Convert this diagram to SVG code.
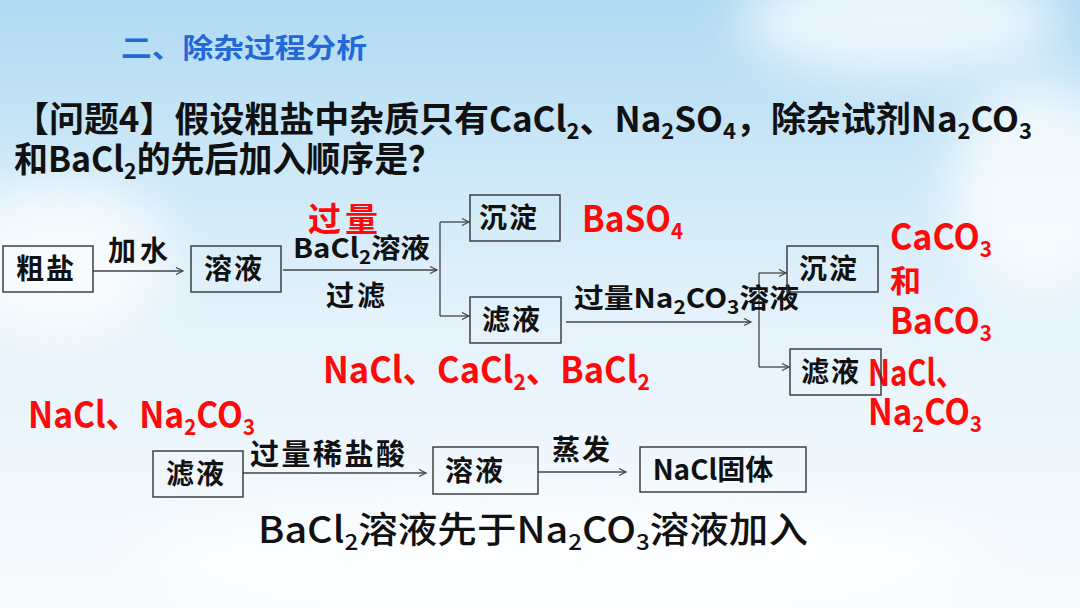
<svg xmlns="http://www.w3.org/2000/svg" width="1080" height="608" viewBox="0 0 1080 608">
<defs>
<linearGradient id="sky" x1="0" y1="0" x2="0" y2="1">
<stop offset="0" stop-color="#b0daf3"/>
<stop offset="0.3" stop-color="#cfe9f8"/>
<stop offset="0.55" stop-color="#e6f3fb"/>
<stop offset="1" stop-color="#f8fbfe"/>
</linearGradient>
<filter id="blur" x="-50%" y="-50%" width="200%" height="200%"><feGaussianBlur stdDeviation="25"/></filter>
<marker id="arr" markerWidth="10" markerHeight="10" refX="8" refY="4" orient="auto" markerUnits="userSpaceOnUse">
<path d="M1,0.5 L8,4 L1,7.5" fill="none" stroke="#444" stroke-width="1.2"/>
</marker>
<style>
text{font-family:"Noto Sans CJK SC","Noto Sans",sans-serif;font-weight:700;fill:#111}
.title{font-size:27px;fill:#2468d6}
.q{font-size:35px}
.sub{font-size:22px}
.subs{font-size:19px}
.node{font-size:28px;text-anchor:middle;letter-spacing:2px}
.lbl{font-size:27px}
.red{font-size:36px;fill:#ff0a0a}
.box{fill:none;stroke:#333;stroke-width:1.4}
.ln{fill:none;stroke:#444;stroke-width:1.3}
</style>
</defs>
<rect width="1080" height="608" fill="url(#sky)"/>
<g filter="url(#blur)" fill="#ffffff" opacity="0.75">
<ellipse cx="900" cy="20" rx="160" ry="55"/>
<ellipse cx="1040" cy="190" rx="90" ry="110"/>
<ellipse cx="60" cy="260" rx="110" ry="80"/>
<ellipse cx="560" cy="560" rx="420" ry="60"/>
</g>

<text class="title" x="121" y="58" textLength="246" lengthAdjust="spacingAndGlyphs">二、除杂过程分析</text>
<text class="q" x="14" y="132" textLength="1018" lengthAdjust="spacingAndGlyphs">【问题4】假设粗盐中杂质只有CaCl<tspan class="sub" dy="7">2</tspan><tspan dy="-7">、Na</tspan><tspan class="sub" dy="7">2</tspan><tspan dy="-7">SO</tspan><tspan class="sub" dy="7">4</tspan><tspan dy="-7">，除杂试剂Na</tspan><tspan class="sub" dy="7">2</tspan><tspan dy="-7">CO</tspan><tspan class="sub" dy="7">3</tspan></text>
<text class="q" x="14" y="172" textLength="428" lengthAdjust="spacingAndGlyphs">和BaCl<tspan class="sub" dy="7">2</tspan><tspan dy="-7">的先后加入顺序是？</tspan></text>

<g id="connectors">
<line class="ln" x1="93" y1="271" x2="183" y2="271" marker-end="url(#arr)"/>
<line class="ln" x1="283" y1="270" x2="437" y2="270" marker-end="url(#arr)"/>
<path class="ln" d="M440,222 V316"/>
<line class="ln" x1="440" y1="222" x2="469" y2="222" marker-end="url(#arr)"/>
<line class="ln" x1="440" y1="316" x2="469" y2="316" marker-end="url(#arr)"/>
<line class="ln" x1="566" y1="322" x2="751" y2="322" marker-end="url(#arr)"/>
<path class="ln" d="M759,273 V367"/>
<line class="ln" x1="759" y1="273" x2="786" y2="273" marker-end="url(#arr)"/>
<line class="ln" x1="759" y1="367" x2="789" y2="367" marker-end="url(#arr)"/>
<line class="ln" x1="243" y1="473" x2="426" y2="473" marker-end="url(#arr)"/>
<line class="ln" x1="538" y1="472" x2="626" y2="472" marker-end="url(#arr)"/>
</g>

<g id="labels">
<text class="lbl" x="108" y="261" style="font-size:28px" textLength="60">加水</text>
<text class="lbl" x="308" y="231" style="font-size:33px;fill:#ff0a0a" textLength="70">过量</text>
<text class="lbl" x="293" y="258" textLength="137" lengthAdjust="spacingAndGlyphs">BaCl<tspan class="subs" dy="6">2</tspan><tspan dy="-6">溶液</tspan></text>
<text class="lbl" x="326" y="306" style="font-size:28px" textLength="59">过滤</text>
<text class="lbl" x="574" y="308" textLength="225" lengthAdjust="spacingAndGlyphs">过量Na<tspan class="subs" dy="6">2</tspan><tspan dy="-6">CO</tspan><tspan class="subs" dy="6">3</tspan><tspan dy="-6">溶液</tspan></text>
<text class="lbl" x="250" y="465" style="font-size:29px" textLength="155">过量稀盐酸</text>
<text class="lbl" x="552" y="460" style="font-size:28px" textLength="58">蒸发</text>
</g>

<g id="red-notes">
<text class="red" x="582" y="232" textLength="101" lengthAdjust="spacingAndGlyphs">BaSO<tspan class="sub" dy="7">4</tspan></text>
<text class="red" x="323" y="383" textLength="327" lengthAdjust="spacingAndGlyphs">NaCl、CaCl<tspan class="sub" dy="7">2</tspan><tspan dy="-7">、BaCl</tspan><tspan class="sub" dy="7">2</tspan></text>
<text class="red" x="890" y="250" textLength="102" lengthAdjust="spacingAndGlyphs">CaCO<tspan class="sub" dy="7">3</tspan></text>
<text class="red" x="890" y="292" style="font-size:31px">和</text>
<text class="red" x="890" y="334" textLength="102" lengthAdjust="spacingAndGlyphs">BaCO<tspan class="sub" dy="7">3</tspan></text>
<text class="red" x="868" y="386" textLength="97" lengthAdjust="spacingAndGlyphs">NaCl、</text>
<text class="red" x="868" y="425" textLength="114" lengthAdjust="spacingAndGlyphs">Na<tspan class="sub" dy="7">2</tspan><tspan dy="-7">CO</tspan><tspan class="sub" dy="7">3</tspan></text>
<text class="red" x="28" y="428" textLength="227" lengthAdjust="spacingAndGlyphs">NaCl、Na<tspan class="sub" dy="7">2</tspan><tspan dy="-7">CO</tspan><tspan class="sub" dy="7">3</tspan></text>
</g>

<g id="n-cuyan"><rect class="box" x="3" y="246" width="90" height="46"/><text class="node" x="46" y="279">粗盐</text></g>
<g id="n-rongye1"><rect class="box" x="191" y="246" width="90" height="46"/><text class="node" x="234" y="279">溶液</text></g>
<g id="n-chendian1"><rect class="box" x="470" y="195" width="90" height="46"/><text class="node" x="509" y="228">沉淀</text></g>
<g id="n-lvye1"><rect class="box" x="470" y="297" width="91" height="46"/><text class="node" x="512" y="330">滤液</text></g>
<g id="n-chendian2"><rect class="box" x="787" y="246" width="91" height="46"/><text class="node" x="829" y="279">沉淀</text></g>
<g id="n-lvye2"><rect class="box" x="790" y="349" width="91" height="46"/><text class="node" x="831" y="382">滤液</text></g>
<g id="n-lvye3"><rect class="box" x="153" y="451" width="90" height="46"/><text class="node" x="196" y="484">滤液</text></g>
<g id="n-rongye3"><rect class="box" x="433" y="447" width="105" height="47"/><text class="node" x="475" y="481">溶液</text></g>
<g id="n-nacl"><rect class="box" x="640" y="447" width="166" height="45"/><text class="node" x="713" y="480" style="letter-spacing:0">NaCl固体</text></g>

<text x="258" y="543" style="font-size:36px;font-weight:500" textLength="550" lengthAdjust="spacingAndGlyphs">BaCl<tspan class="sub" dy="7">2</tspan><tspan dy="-7">溶液先于Na</tspan><tspan class="sub" dy="7">2</tspan><tspan dy="-7">CO</tspan><tspan class="sub" dy="7">3</tspan><tspan dy="-7">溶液加入</tspan></text>
</svg>
